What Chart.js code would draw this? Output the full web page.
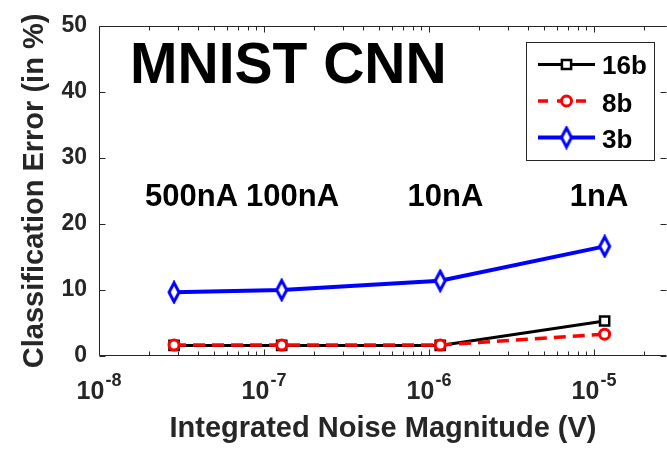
<!DOCTYPE html>
<html><head><meta charset="utf-8">
<script src="https://cdn.jsdelivr.net/npm/chart.js@4.4.0/dist/chart.umd.min.js"></script>
<style>html,body{margin:0;padding:0;background:#fff;overflow:hidden}canvas{display:block}</style>
</head><body>
<canvas id="c" width="667" height="449"></canvas>
<script>
// ---- data ----
const noiseV = [2.85e-8, 1.28e-7, 1.17e-6, 1.16e-5];
const currentLabels = ['500nA', '100nA', '10nA', '1nA'];
const err16b = [1.6, 1.6, 1.6, 5.3];
const err8b = [1.65, 1.65, 1.65, 3.3];
const err3b = [9.65, 10.0, 11.4, 16.6];
const seriesNames = ['16b', '8b', '3b'];
const yTicks = [0, 10, 20, 30, 40, 50];
const xDecades = [1e-8, 1e-7, 1e-6, 1e-5];
const chartTitle = 'MNIST CNN';
const xTitle = 'Integrated Noise Magnitude (V)';
const yTitle = 'Classification Error (in %)';

const FONT = "'Liberation Sans', Arial, Helvetica, sans-serif";
const AX = '#262626';

function toXY(ys) { return noiseV.map((x, i) => ({ x: x, y: ys[i] })); }

// tall diamond marker
function diamondMarker(color) {
  const c = document.createElement('canvas');
  c.width = 16; c.height = 24;
  const g = c.getContext('2d');
  g.fillStyle = '#fff'; g.strokeStyle = color; g.lineWidth = 3; g.lineJoin = 'miter';
  g.beginPath();
  g.moveTo(8, 2.5); g.lineTo(13, 12); g.lineTo(8, 21.5); g.lineTo(3, 12); g.closePath();
  g.fill(); g.stroke();
  return c;
}

const overlay = {
  id: 'overlay',
  afterDraw(chart) {
    const ctx = chart.ctx, ca = chart.chartArea;
    const xs = chart.scales.x, ys = chart.scales.y;
    ctx.save();
    // axes box
    ctx.strokeStyle = AX; ctx.lineWidth = 1;
    const L = Math.round(ca.left) + 0.5, T = Math.round(ca.top) + 0.5;
    const B = Math.round(ca.bottom) - 0.5, R = ca.right - 0.5;
    ctx.beginPath();
    ctx.moveTo(R, T); ctx.lineTo(L, T); ctx.lineTo(L, B); ctx.lineTo(R, B);
    yTicks.forEach(v => {
      const y = Math.round(ys.getPixelForValue(v)) + 0.5;
      ctx.moveTo(L, y); ctx.lineTo(L + 6, y);
      ctx.moveTo(R, y); ctx.lineTo(R - 6, y);
    });
    for (let e = -8; e <= -4; e++) {
      for (let m = 1; m <= 9; m++) {
        const v = m * Math.pow(10, e);
        if (v < xs.min * 0.999 || v > xs.max) continue;
        const x = Math.round(xs.getPixelForValue(v)) + 0.5;
        const len = m === 1 ? 6 : 4;
        ctx.moveTo(x, B); ctx.lineTo(x, B - len);
        ctx.moveTo(x, T); ctx.lineTo(x, T + len);
      }
    }
    ctx.stroke();

    // x tick labels with superscript exponent
    ctx.fillStyle = AX; ctx.textBaseline = 'alphabetic'; ctx.textAlign = 'left';
    const bigF = 'bold 25px ' + FONT, supF = 'bold 18px ' + FONT;
    xDecades.forEach(v => {
      const x = xs.getPixelForValue(v);
      const exp = String(Math.round(Math.log10(v)));
      ctx.font = bigF; const w1 = ctx.measureText('10').width;
      ctx.font = supF; const w2 = ctx.measureText(exp).width;
      const x0 = x - (w1 + w2 + 1) / 2;
      ctx.font = bigF; ctx.fillText('10', x0, 399);
      ctx.font = supF; ctx.fillText(exp, x0 + w1 + 1, 386);
    });

    // current annotations
    ctx.fillStyle = '#000'; ctx.font = 'bold 31px ' + FONT; ctx.textAlign = 'center';
    const annX = [191.5, 292.5, 445.5, 599];
    currentLabels.forEach((t, i) => ctx.fillText(t, annX[i], 206));

    // title
    ctx.textAlign = 'left'; ctx.font = 'bold 57px ' + FONT;
    ctx.fillText(chartTitle, 130, 83);

    // legend
    const lx = 526.5, ly = 42.5, lw = 128, lh = 118;
    ctx.fillStyle = '#fff'; ctx.fillRect(lx, ly, lw, lh);
    ctx.strokeStyle = AX; ctx.lineWidth = 1; ctx.strokeRect(lx, ly, lw, lh);
    const rowY = [64.5, 101, 137.5], baseY = [74, 111.5, 147.5];
    chart.data.datasets.forEach((ds, i) => {
      const y = rowY[i];
      ctx.save();
      ctx.strokeStyle = ds.borderColor; ctx.lineWidth = ds.borderWidth;
      if (ds.borderDash) { ctx.setLineDash([10, 9]); ctx.lineDashOffset = 0; }
      ctx.beginPath(); ctx.moveTo(538, y); ctx.lineTo(595, y); ctx.stroke();
      ctx.setLineDash([]);
      ctx.fillStyle = ds.pointBackgroundColor; ctx.strokeStyle = ds.borderColor;
      ctx.lineWidth = ds.pointBorderWidth;
      Chart.helpers.drawPoint(ctx, { pointStyle: ds.pointStyle, radius: ds.pointRadius, rotation: 0, borderWidth: ds.pointBorderWidth }, 566.5, y);
      ctx.restore();
      ctx.fillStyle = '#000'; ctx.font = 'bold 26px ' + FONT; ctx.textAlign = 'left';
      ctx.fillText(ds.label, 602, baseY[i]);
    });
    ctx.restore();
  }
};

new Chart(document.getElementById('c'), {
  type: 'line',
  data: {
    datasets: [
      { label: seriesNames[0], data: toXY(err16b), borderColor: '#000000', borderWidth: 3,
        pointStyle: 'rect', pointRadius: 6.5, pointBorderWidth: 2.5, pointBackgroundColor: '#ffffff', pointBorderColor: '#000000', order: 2, tension: 0 },
      { label: seriesNames[1], data: toXY(err8b), borderColor: '#ff0000', borderWidth: 3.5, borderDash: [12, 7],
        pointStyle: 'circle', pointRadius: 5, pointBorderWidth: 3, pointBackgroundColor: '#ffffff', pointBorderColor: '#ff0000', order: 1, tension: 0 },
      { label: seriesNames[2], data: toXY(err3b), borderColor: '#0000ff', borderWidth: 4,
        pointStyle: diamondMarker('#0000ff'), pointRadius: 8, pointBorderWidth: 3, pointBackgroundColor: '#ffffff', pointBorderColor: '#0000ff', order: 0, tension: 0 }
    ]
  },
  options: {
    responsive: false, animation: false, devicePixelRatio: 1,
    layout: { autoPadding: false, padding: { top: 23, right: 0, left: 0, bottom: 0 } },
    plugins: { legend: { display: false }, tooltip: { enabled: false } },
    scales: {
      x: {
        type: 'logarithmic', min: 1e-8, max: 2.77e-5,
        grid: { display: false, drawTicks: false }, border: { display: false },
        ticks: { display: false },
        title: { display: true, text: xTitle, color: AX, font: { family: FONT, size: 29, weight: 'bold' }, padding: { top: 0, bottom: 3 } },
        afterFit(s) { s.height = 93; }
      },
      y: {
        min: 0, max: 50,
        grid: { display: false, drawTicks: false }, border: { display: false },
        ticks: { stepSize: 10, color: AX, padding: 12, font: { family: FONT, size: 23, weight: 'bold' } },
        title: { display: true, text: yTitle, color: AX, font: { family: FONT, size: 29, weight: 'bold' }, padding: { top: 18, bottom: 0 } },
        afterFit(s) { s.width = 99; }
      }
    }
  },
  plugins: [overlay]
});
</script>
</body></html>
